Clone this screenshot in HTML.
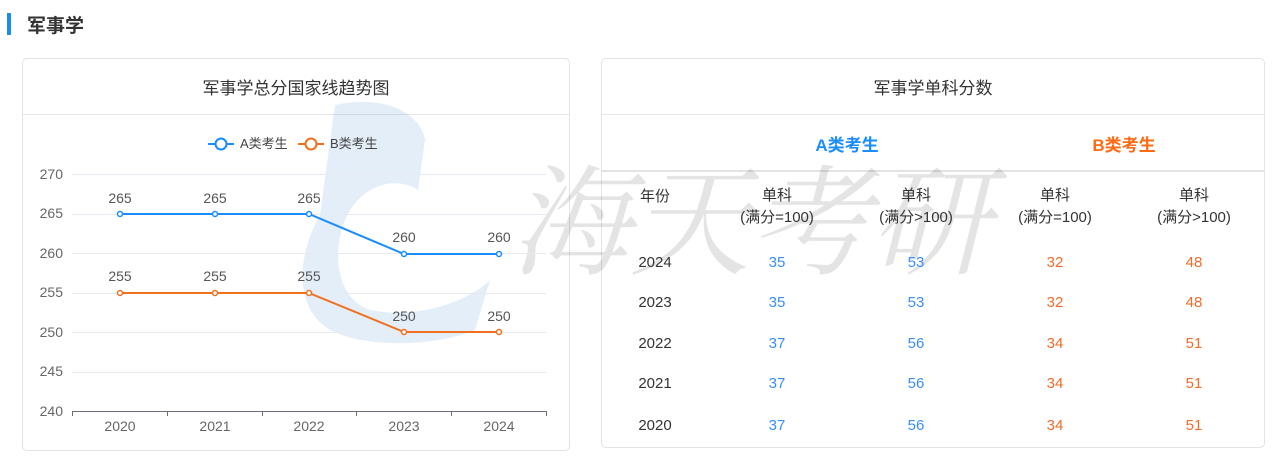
<!DOCTYPE html>
<html><head><meta charset="utf-8"><style>
body{margin:0;width:1280px;height:458px;background:#fff;font-family:"Liberation Sans","Noto Sans CJK SC",sans-serif;position:relative;overflow:hidden}
.abs{position:absolute}
.card{position:absolute;border:1px solid #e3e3e3;border-radius:5px;background:#fff}
.c{position:absolute;transform:translateX(-50%);white-space:nowrap;text-align:center}
</style></head><body>
<div class="abs" style="left:7px;top:13px;width:4px;height:22px;background:#1a8cf0"></div>
<div class="abs" style="left:27px;top:11px;font-size:19px;font-weight:bold;color:#333">军事学</div>

<div class="card" style="left:22px;top:58px;width:546px;height:391px"></div>
<div class="abs" style="left:23px;top:114px;width:546px;height:1px;background:#e6e6e6"></div>
<div class="c" style="left:296px;top:74px;font-size:17px;color:#333">军事学总分国家线趋势图</div>

<div class="card" style="left:601px;top:58px;width:662px;height:388px"></div>
<div class="abs" style="left:602px;top:114px;width:662px;height:1px;background:#e6e6e6"></div>
<div class="abs" style="left:602px;top:170px;width:662px;height:2px;background:#e3e3e3"></div>
<div class="c" style="left:933px;top:74px;font-size:17px;color:#333">军事学单科分数</div>

<svg class="abs" style="left:0;top:0" width="1280" height="458">
<g opacity="0.13" fill="#2a7cc8">
<path d="M335 105 C380 95 420 110 425 140 L418 190 C395 175 360 185 345 220 C330 260 340 300 370 310 C420 320 470 300 490 280 L475 330 C440 345 370 350 330 330 C290 305 300 250 320 215 Z"/>
</g>
<text x="510" y="265" font-size="120" font-style="italic" font-family="Noto Serif CJK SC,serif" fill="#000" opacity="0.1">海天考研</text>
<g font-size="14" fill="#666" text-anchor="end">
<text x="63" y="179">270</text><text x="63" y="218">265</text><text x="63" y="258">260</text><text x="63" y="297">255</text><text x="63" y="337">250</text><text x="63" y="376">245</text><text x="63" y="416">240</text>
</g>
<g stroke="#e8eaf2" stroke-width="1">
<line x1="72" x2="546" y1="174.5" y2="174.5"/><line x1="72" x2="546" y1="214.5" y2="214.5"/><line x1="72" x2="546" y1="253.5" y2="253.5"/><line x1="72" x2="546" y1="293.5" y2="293.5"/><line x1="72" x2="546" y1="332.5" y2="332.5"/><line x1="72" x2="546" y1="372.5" y2="372.5"/>
</g>
<g stroke="#6e7079" stroke-width="1">
<line x1="72" x2="546" y1="411.5" y2="411.5"/>
<line x1="72.5" x2="72.5" y1="411" y2="416"/><line x1="167.5" x2="167.5" y1="411" y2="416"/><line x1="262.5" x2="262.5" y1="411" y2="416"/><line x1="356.5" x2="356.5" y1="411" y2="416"/><line x1="451.5" x2="451.5" y1="411" y2="416"/><line x1="546.5" x2="546.5" y1="411" y2="416"/>
</g>
<g font-size="14" fill="#666" text-anchor="middle">
<text x="120" y="431">2020</text><text x="215" y="431">2021</text><text x="309" y="431">2022</text><text x="404" y="431">2023</text><text x="499" y="431">2024</text>
</g>
<polyline points="120,214 215,214 309,214 404,254 499,254" fill="none" stroke="#1a8cff" stroke-width="2"/>
<polyline points="120,293 215,293 309,293 404,332 499,332" fill="none" stroke="#f07020" stroke-width="2"/>
<g fill="#fff" stroke="#1a8cff" stroke-width="1.5">
<circle cx="120" cy="214" r="2.5"/><circle cx="215" cy="214" r="2.5"/><circle cx="309" cy="214" r="2.5"/><circle cx="404" cy="254" r="2.5"/><circle cx="499" cy="254" r="2.5"/>
</g>
<g fill="#fff" stroke="#f07020" stroke-width="1.5">
<circle cx="120" cy="293" r="2.5"/><circle cx="215" cy="293" r="2.5"/><circle cx="309" cy="293" r="2.5"/><circle cx="404" cy="332" r="2.5"/><circle cx="499" cy="332" r="2.5"/>
</g>
<g font-size="14" fill="#555" text-anchor="middle">
<text x="120" y="203">265</text><text x="215" y="203">265</text><text x="309" y="203">265</text><text x="404" y="242">260</text><text x="499" y="242">260</text>
<text x="120" y="281">255</text><text x="215" y="281">255</text><text x="309" y="281">255</text><text x="404" y="321">250</text><text x="499" y="321">250</text>
</g>
<line x1="208" x2="234" y1="144" y2="144" stroke="#1a8cff" stroke-width="2"/>
<circle cx="221" cy="144" r="5.5" fill="#fff" stroke="#1a8cff" stroke-width="2"/>
<text x="240" y="148" font-size="13" fill="#444">A类考生</text>
<line x1="298" x2="324" y1="144" y2="144" stroke="#f07020" stroke-width="2"/>
<circle cx="311" cy="144" r="5.5" fill="#fff" stroke="#f07020" stroke-width="2"/>
<text x="330" y="148" font-size="13" fill="#444">B类考生</text>
</svg>

<div class="c" style="left:847px;top:131px;font-size:17px;font-weight:bold;color:#1a8cff">A类考生</div>
<div class="c" style="left:1124px;top:131px;font-size:17px;font-weight:bold;color:#ff6a13">B类考生</div>

<div style="font-size:15px;color:#333">
<div class="c" style="left:655px;top:185px">年份</div>
<div class="c" style="left:777px;top:185px;line-height:22px">单科<br>(满分=100)</div>
<div class="c" style="left:916px;top:185px;line-height:22px">单科<br>(满分&gt;100)</div>
<div class="c" style="left:1055px;top:185px;line-height:22px">单科<br>(满分=100)</div>
<div class="c" style="left:1194px;top:185px;line-height:22px">单科<br>(满分&gt;100)</div>
</div>
<div style="font-size:15px">
<div class="c" style="left:655px;top:254px;color:#333">2024</div><div class="c" style="left:777px;top:254px;color:#3a8ef6">35</div><div class="c" style="left:916px;top:254px;color:#3a8ef6">53</div><div class="c" style="left:1055px;top:254px;color:#f26b2a">32</div><div class="c" style="left:1194px;top:254px;color:#f26b2a">48</div>
<div class="c" style="left:655px;top:294px;color:#333">2023</div><div class="c" style="left:777px;top:294px;color:#3a8ef6">35</div><div class="c" style="left:916px;top:294px;color:#3a8ef6">53</div><div class="c" style="left:1055px;top:294px;color:#f26b2a">32</div><div class="c" style="left:1194px;top:294px;color:#f26b2a">48</div>
<div class="c" style="left:655px;top:335px;color:#333">2022</div><div class="c" style="left:777px;top:335px;color:#3a8ef6">37</div><div class="c" style="left:916px;top:335px;color:#3a8ef6">56</div><div class="c" style="left:1055px;top:335px;color:#f26b2a">34</div><div class="c" style="left:1194px;top:335px;color:#f26b2a">51</div>
<div class="c" style="left:655px;top:375px;color:#333">2021</div><div class="c" style="left:777px;top:375px;color:#3a8ef6">37</div><div class="c" style="left:916px;top:375px;color:#3a8ef6">56</div><div class="c" style="left:1055px;top:375px;color:#f26b2a">34</div><div class="c" style="left:1194px;top:375px;color:#f26b2a">51</div>
<div class="c" style="left:655px;top:417px;color:#333">2020</div><div class="c" style="left:777px;top:417px;color:#3a8ef6">37</div><div class="c" style="left:916px;top:417px;color:#3a8ef6">56</div><div class="c" style="left:1055px;top:417px;color:#f26b2a">34</div><div class="c" style="left:1194px;top:417px;color:#f26b2a">51</div>
</div>
</body></html>
